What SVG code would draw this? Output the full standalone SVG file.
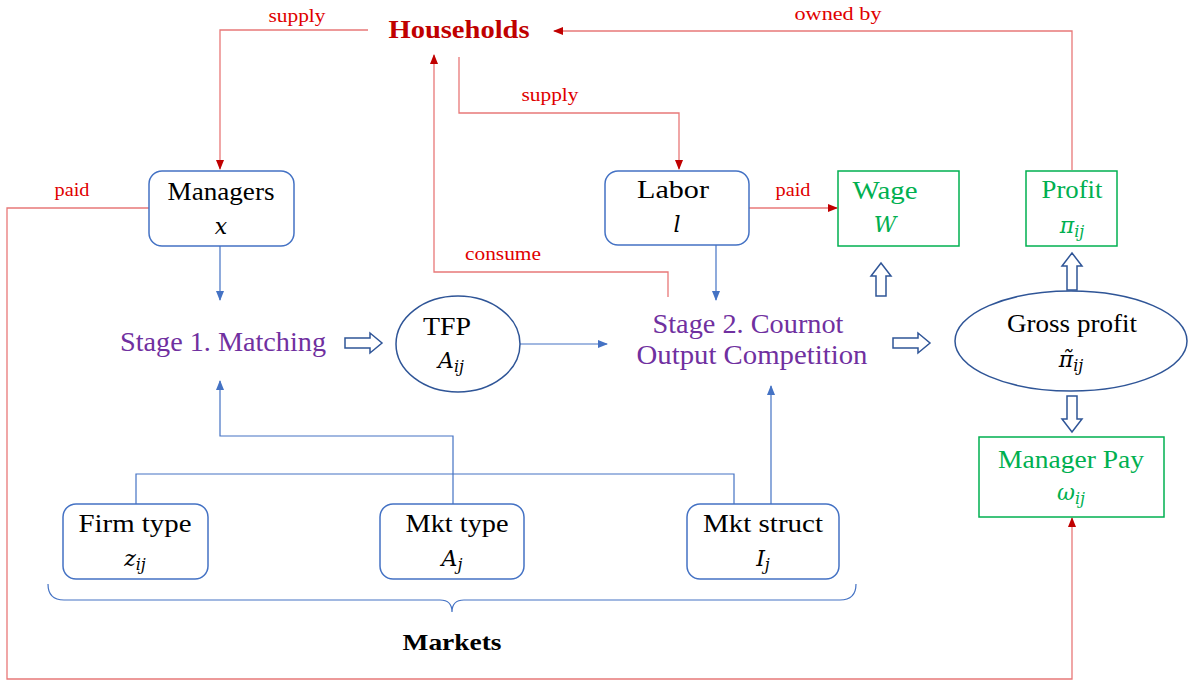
<svg xmlns="http://www.w3.org/2000/svg" width="1188" height="681" viewBox="0 0 1188 681">
<defs>
<style>
.t{font-family:"Liberation Serif",serif;font-size:26px;fill:#000;text-anchor:middle;}
.m{font-family:"DejaVu Serif",serif;font-style:italic;font-size:22px;fill:#000;text-anchor:middle;}
.sub{font-size:16px;}
.lbl{font-family:"Liberation Serif",serif;font-size:19px;fill:#e00000;text-anchor:middle;}
.g{fill:#00b050;}
.p{font-family:"Liberation Serif",serif;font-size:27px;fill:#7030a0;text-anchor:middle;}
.hh{font-family:"Liberation Serif",serif;font-size:26px;font-weight:bold;fill:#c00000;text-anchor:middle;}
.mk{font-family:"Liberation Serif",serif;font-size:24px;font-weight:bold;fill:#000;text-anchor:middle;}
.box{fill:#fff;stroke:#4472c4;stroke-width:1.5;}
.gbox{fill:#fff;stroke:#00b050;stroke-width:1.5;}
.ell{fill:#fff;stroke:#2f5597;stroke-width:1.5;}
.rl{fill:none;stroke:#e87878;stroke-width:1.3;}
.bl{fill:none;stroke:#4472c4;stroke-width:1.2;}
.blk{fill:#fff;stroke:#2f5597;stroke-width:1.5;}
</style>
<marker id="ar" markerWidth="10" markerHeight="8" refX="9" refY="4" orient="auto" markerUnits="userSpaceOnUse"><path d="M0,0 L10,4 L0,8 Z" fill="#c00000"/></marker>
<marker id="ab" markerWidth="10" markerHeight="8" refX="9" refY="4" orient="auto" markerUnits="userSpaceOnUse"><path d="M0,0 L10,4 L0,8 Z" fill="#4472c4"/></marker>
</defs>
<rect width="1188" height="681" fill="#fff"/>

<g id="connectors">
<path class="rl" d="M368,30 H220 V169" marker-end="url(#ar)"/>
<path class="rl" d="M1072,170 V31 H554" marker-end="url(#ar)"/>
<path class="rl" d="M459,57 V113 H679 V169" marker-end="url(#ar)"/>
<path class="rl" d="M668,297 V272 H434 V55" marker-end="url(#ar)"/>
<path class="rl" d="M149,208 H7 V679 H1072 V518" marker-end="url(#ar)"/>
<path class="rl" d="M749,208 H837" marker-end="url(#ar)"/>
<path class="bl" d="M220,246 V300" marker-end="url(#ab)"/>
<path class="bl" d="M716,245 V300" marker-end="url(#ab)"/>
<path class="bl" d="M520,344 H607" marker-end="url(#ab)"/>
<path class="bl" d="M136,504 V474 H734 V504"/>
<path class="bl" d="M453,504 V436 H220 V381" marker-end="url(#ab)"/>
<path class="bl" d="M771,504 V386" marker-end="url(#ab)"/>
<path class="bl" d="M48,584 Q48,600 64,600 H440 Q452,600 452,612 Q452,600 464,600 H840 Q856,600 856,584"/>
<polygon class="blk" points="345,338 370,338 370,333 382,343 370,353 370,348 345,348"/>
<polygon class="blk" points="893,338 918,338 918,333 930,343 918,353 918,348 893,348"/>
<polygon class="blk" points="876,296 876,276 871,276 881,263 891,276 886,276 886,296"/>
<polygon class="blk" points="1067,290 1067,266 1062,266 1072,253 1082,266 1077,266 1077,290"/>
<polygon class="blk" points="1067,396 1067,419 1062,419 1072,432 1082,419 1077,419 1077,396"/>
</g>

<text class="lbl" x="297" y="22" textLength="57" lengthAdjust="spacingAndGlyphs">supply</text>
<text class="lbl" x="838" y="20" textLength="87" lengthAdjust="spacingAndGlyphs">owned by</text>
<text class="lbl" x="550" y="101" textLength="57" lengthAdjust="spacingAndGlyphs">supply</text>
<text class="lbl" x="503" y="260" textLength="76" lengthAdjust="spacingAndGlyphs">consume</text>
<text class="lbl" x="72" y="196" textLength="35" lengthAdjust="spacingAndGlyphs">paid</text>
<text class="lbl" x="793" y="196" textLength="35" lengthAdjust="spacingAndGlyphs">paid</text>

<g id="households"><text class="hh" x="459" y="38" textLength="141" lengthAdjust="spacingAndGlyphs">Households</text></g>

<g id="managers">
<rect class="box" x="149" y="171" width="145" height="75" rx="13"/>
<text class="t" x="221" y="200" textLength="107" lengthAdjust="spacingAndGlyphs">Managers</text>
<text class="m" x="221" y="234">x</text>
</g>
<g id="labor">
<rect class="box" x="605" y="171" width="144" height="74" rx="13"/>
<text class="t" x="673" y="198" textLength="72" lengthAdjust="spacingAndGlyphs">Labor</text>
<text class="m" x="677" y="232">l</text>
</g>
<g id="wage">
<rect class="gbox" x="838" y="171" width="121" height="75"/>
<text class="t g" x="885" y="199" textLength="65" lengthAdjust="spacingAndGlyphs">Wage</text>
<text class="m g" x="885" y="232">W</text>
</g>
<g id="profit">
<rect class="gbox" x="1026" y="171" width="91" height="75"/>
<text class="t g" x="1072" y="198" textLength="61" lengthAdjust="spacingAndGlyphs">Profit</text>
<text class="m g" x="1072" y="233">π<tspan class="sub" dy="4">ij</tspan></text>
</g>
<g id="stage1"><text class="p" x="223" y="351" textLength="206" lengthAdjust="spacingAndGlyphs">Stage 1. Matching</text></g>
<g id="tfp">
<ellipse class="ell" cx="458" cy="344" rx="62" ry="48"/>
<text class="t" x="447" y="335" textLength="48" lengthAdjust="spacingAndGlyphs">TFP</text>
<text class="m" x="451" y="368">A<tspan class="sub" dy="4">ij</tspan></text>
</g>
<g id="stage2">
<text class="p" x="748" y="333" textLength="191" lengthAdjust="spacingAndGlyphs">Stage 2. Cournot</text>
<text class="p" x="752" y="364" textLength="231" lengthAdjust="spacingAndGlyphs">Output Competition</text>
</g>
<g id="gross">
<ellipse class="ell" cx="1071" cy="341" rx="116" ry="50"/>
<text class="t" x="1072" y="332" textLength="130" lengthAdjust="spacingAndGlyphs">Gross profit</text>
<text class="m" x="1071" y="367">π̃<tspan class="sub" dy="4">ij</tspan></text>
</g>
<g id="managerpay">
<rect class="gbox" x="979" y="437" width="185" height="80"/>
<text class="t g" x="1071" y="468" textLength="146" lengthAdjust="spacingAndGlyphs">Manager Pay</text>
<text class="m g" x="1071" y="500">ω<tspan class="sub" dy="4">ij</tspan></text>
</g>
<g id="firmtype">
<rect class="box" x="63" y="504" width="145" height="75" rx="13"/>
<text class="t" x="135" y="532" textLength="113" lengthAdjust="spacingAndGlyphs">Firm type</text>
<text class="m" x="135" y="566">z<tspan class="sub" dy="4">ij</tspan></text>
</g>
<g id="mkttype">
<rect class="box" x="380" y="504" width="144" height="75" rx="13"/>
<text class="t" x="457" y="532" textLength="103" lengthAdjust="spacingAndGlyphs">Mkt type</text>
<text class="m" x="452" y="566">A<tspan class="sub" dy="4">j</tspan></text>
</g>
<g id="mktstruct">
<rect class="box" x="687" y="504" width="152" height="75" rx="13"/>
<text class="t" x="763" y="532" textLength="120" lengthAdjust="spacingAndGlyphs">Mkt struct</text>
<text class="m" x="763" y="566">I<tspan class="sub" dy="4">j</tspan></text>
</g>
<g id="markets"><text class="mk" x="452" y="650" textLength="99" lengthAdjust="spacingAndGlyphs">Markets</text></g>
</svg>
